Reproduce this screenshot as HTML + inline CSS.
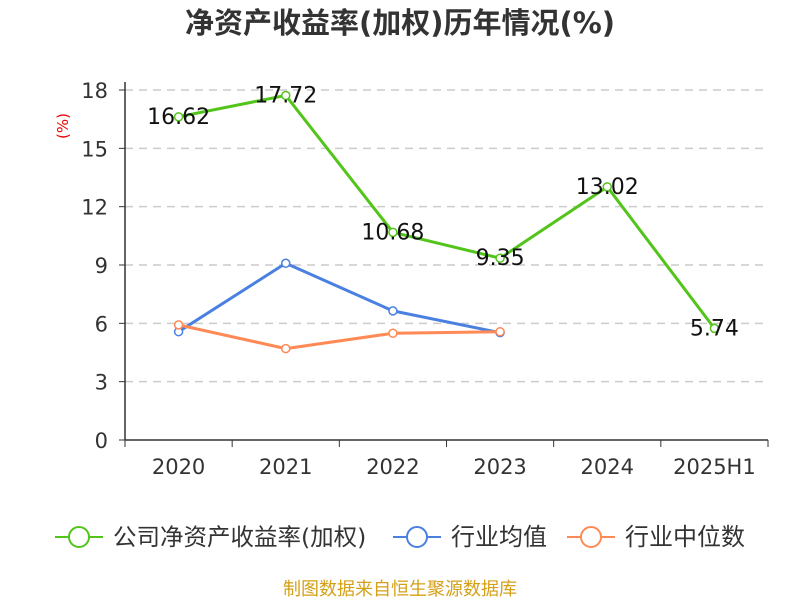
<!DOCTYPE html>
<html><head><meta charset="utf-8"><style>
body{margin:0;background:#fff;}
svg{font-family:"DejaVu Sans","Noto Sans CJK SC",sans-serif;}
</style></head><body>
<svg id="c" width="800" height="600">
<text x="400" y="33" text-anchor="middle" font-size="29" font-weight="bold" fill="#333">净资产收益率(加权)历年情况(%)</text>
<text x="68" y="126" text-anchor="middle" font-size="15" fill="#e00" transform="rotate(-90 68 126)">(%)</text>
<g id="grid"></g><g id="axes"></g><g id="series"></g>
<g>
<g><line x1="55" y1="537" x2="103" y2="537" stroke="#52c41a" stroke-width="2"/><circle cx="79" cy="537" r="10" fill="#fff" stroke="#52c41a" stroke-width="2"/><text x="113" y="545" font-size="23.5" fill="#333">公司净资产收益率(加权)</text></g>
<g><line x1="393" y1="537" x2="441" y2="537" stroke="#4a80e0" stroke-width="2"/><circle cx="417" cy="537" r="10" fill="#fff" stroke="#4a80e0" stroke-width="2"/><text x="451" y="545" font-size="24" fill="#333">行业均值</text></g>
<g><line x1="567" y1="537" x2="615" y2="537" stroke="#ff8a56" stroke-width="2"/><circle cx="591" cy="537" r="10" fill="#fff" stroke="#ff8a56" stroke-width="2"/><text x="625" y="545" font-size="24" fill="#333">行业中位数</text></g>
</g>
<text x="400" y="595" text-anchor="middle" font-size="18" fill="#d4a017">制图数据来自恒生聚源数据库</text>
</svg>
<script>
const categories=["2020","2021","2022","2023","2024","2025H1"];
const companyValues=[16.62,17.72,10.68,9.35,13.02,5.74];
const industryAvg=[5.57,9.09,6.64,5.52];
const industryMedian=[5.92,4.70,5.49,5.57];
const yTicks=[0,3,6,9,12,15,18];
const NS="http://www.w3.org/2000/svg";
const x0=125,x1=768,bw=(x1-x0)/categories.length;
const X=i=>x0+bw*(i+0.5);
const Y=v=>440-v*(350/18);
function mk(p,t,a){const e=document.createElementNS(NS,t);for(const k in a)e.setAttribute(k,a[k]);p.appendChild(e);return e;}
const grid=document.getElementById('grid'),axes=document.getElementById('axes'),ser=document.getElementById('series');
yTicks.forEach(v=>{
 if(v>0){const g=mk(grid,'line',{x1:x0,x2:x1,y1:Y(v),y2:Y(v),stroke:'#ccc','stroke-dasharray':'8,6','stroke-width':1.5});
 
 }
 const tk=mk(axes,'line',{x1:x0-6,x2:x0,y1:Y(v),y2:Y(v),stroke:'#333'});
 
 
 const t=mk(axes,'text',{x:x0-17,y:Y(v)+8,'text-anchor':'end','font-size':21,fill:'#333'});t.textContent=v;
 
 
});
const ya=mk(axes,'line',{x1:x0,x2:x0,y1:Y(18)-8,y2:440,stroke:'#333','stroke-width':1.5});


const xa=mk(axes,'line',{x1:x0,x2:x1,y1:440,y2:440,stroke:'#333','stroke-width':1.5});


for(let i=0;i<=categories.length;i++){const l=mk(axes,'line',{x1:x0+bw*i,x2:x0+bw*i,y1:440,y2:447,stroke:'#333'});
 
 }
categories.forEach((c,i)=>{const t=mk(axes,'text',{x:X(i),y:474,'text-anchor':'middle','font-size':21,fill:'#333'});t.textContent=c;
 
 });
function line(vals,col,name,labels){
 const g=mk(ser,'g',{});
 
 
 mk(g,'polyline',{points:vals.map((v,i)=>X(i)+','+Y(v)).join(' '),fill:'none',stroke:col,'stroke-width':3,'stroke-linejoin':'round'});
 vals.forEach((v,i)=>{const c=mk(g,'circle',{cx:X(i),cy:Y(v),r:4,fill:'#fff',stroke:col,'stroke-width':1.5});
  
  
  if(labels){const t=mk(g,'text',{x:X(i),y:Y(v)+7,'text-anchor':'middle','font-size':22,fill:'#111'});t.textContent=v.toFixed(2);
  
  }});
}
line(companyValues,'#52c41a','company-roe-series',true);
line(industryAvg,'#4a80e0','industry-avg-series',false);
line(industryMedian,'#ff8a56','industry-median-series',false);
</script>
</body></html>
